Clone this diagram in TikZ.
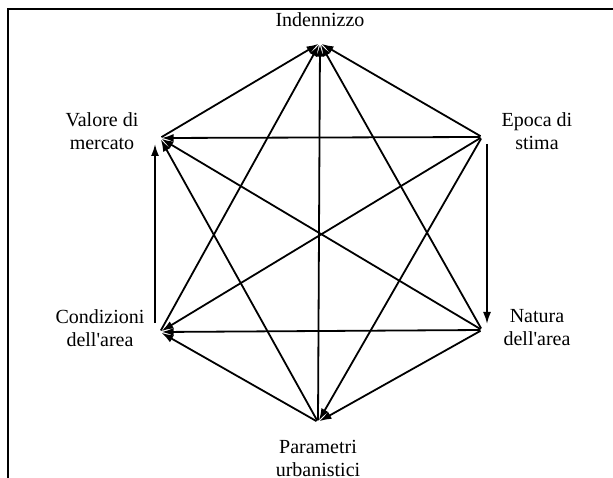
\documentclass[tikz,border=0pt]{standalone}
\usepackage{fontspec}
\setmainfont{Liberation Serif}
\usepackage{tikz}
\usetikzlibrary{arrows.meta}
\tikzstyle{arrow} = [-{Latex[length=12pt,width=8pt]},line width=1.8pt]
\tikzstyle{pt} = [circle,inner sep=0pt,minimum size=3pt]
\tikzstyle{lbl} = [align=center,font=\fontsize{20}{23}\selectfont,inner sep=0pt]

\begin{document}
\begin{tikzpicture}[x=1pt,y=-1pt]
          \useasboundingbox (0,0) rectangle (613,478);
          \draw[line width=2pt] (7.5,478) -- (7.5,9) -- (613,9);

          % vertices
          \node[pt] at (320,43) (i) {};
          \node[pt] at (160,138) (v) {};
          \node[pt] at (482,137) (e) {};
          \node[pt] at (160,332) (c) {};
          \node[pt] at (482,330) (n) {};
          \node[pt] at (318,422) (p) {};

          % labels
          \node[lbl] at (320,20) (il) {Indennizzo};
          \node[lbl] at (102,131) (vl) {Valore di\\mercato};
          \node[lbl] at (537,131) (el) {Epoca di\\stima};
          \node[lbl] at (100,328) (cl) {Condizioni\\dell\textquotesingle area};
          \node[lbl] at (537,328) (nl) {Natura\\dell\textquotesingle area};
          \node[lbl] at (318,458) (pl) {Parametri\\urbanistici};

          \draw[arrow] (v) -- (i);
          \draw[arrow] (c) -- (i);
          \draw[arrow] (p) -- (i);
          \draw[arrow] (n) -- (i);
          \draw[arrow] (e) -- (i);
          \draw[arrow] (e) -- (v);
          \draw[arrow] (e) -- (c);
          \draw[arrow] (e) -- (p);
          \draw[arrow, shorten <=7pt, shorten >=6pt] ([xshift=5pt]e.center) -- ([xshift=5pt]n.center);
          \draw[arrow] (n) -- (v);
          \draw[arrow] (n) -- (c);
          \draw[arrow] (n) -- (p);
          \draw[arrow] (p) -- (v);
          \draw[arrow] (p) -- (c);
          \draw[arrow, shorten <=9pt, shorten >=6pt] ([xshift=-5pt]c.center) -- ([xshift=-5pt]v.center);
        \end{tikzpicture}
\end{document}
